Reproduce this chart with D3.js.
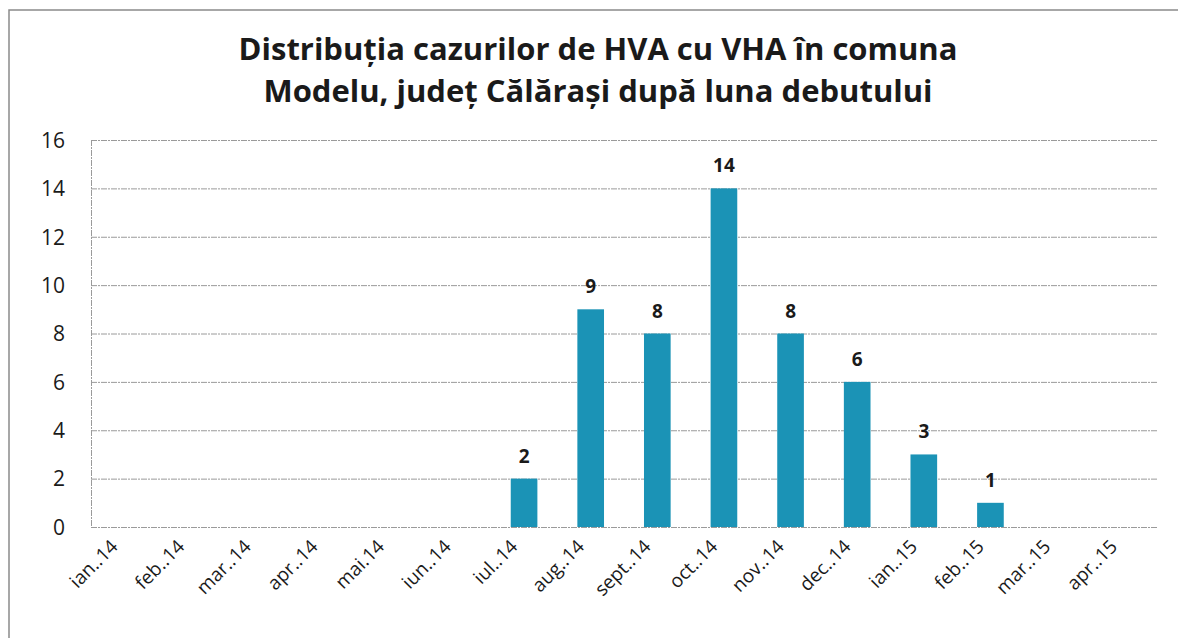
<!DOCTYPE html>
<html>
<head>
<meta charset="utf-8">
<script src="https://cdn.jsdelivr.net/npm/d3@7"></script>
<style>
  html, body { margin: 0; padding: 0; background: #fff; }
  svg { display: block; }
</style>
</head>
<body>
<div id="chart"></div>
<script>
// Bar chart: HVA cases by month of onset
const months = [
  "ian..14", "feb..14", "mar..14", "apr..14", "mai.14", "iun..14", "iul..14",
  "aug..14", "sept..14", "oct..14", "nov..14", "dec..14", "ian..15",
  "feb..15", "mar..15", "apr..15"
];
const cases = [0, 0, 0, 0, 0, 0, 2, 9, 8, 14, 8, 6, 3, 1, 0, 0];
const yTicks = [0, 2, 4, 6, 8, 10, 12, 14, 16];
const titleLines = [
  "Distribuția cazurilor de HVA cu VHA în comuna",
  "Modelu, județ Călărași  după luna debutului"
];

const width = 1184;
const height = 638;
const margin = { top: 140, right: 27, bottom: 111, left: 91 };
const font = "'Open Sans', 'DejaVu Sans', sans-serif";
const barColor = "#1b93b6";
const ink = "#1a1a1a";

const svg = d3
  .select("#chart")
  .append("svg")
  .attr("width", width)
  .attr("height", height);

// outer frame (only top + left edges show in the scan)
svg
  .append("path")
  .attr("d", `M9,${height}V10H${width - 6}`)
  .attr("fill", "none")
  .attr("stroke", "#8a8a8a")
  .attr("stroke-width", 1.5);

svg
  .append("g")
  .selectAll("text")
  .data(titleLines)
  .enter()
  .append("text")
  .attr("x", 598)
  .attr("y", (d, i) => 60 + i * 42)
  .attr("text-anchor", "middle")
  .attr("font-family", font)
  .attr("font-weight", 700)
  .attr("font-size", 31)
  .attr("fill", ink)
  .text((d) => d);

const x = d3
  .scaleBand()
  .domain(months)
  .range([margin.left, width - margin.right])
  .paddingInner(0.6)
  .paddingOuter(0.3);

const y = d3
  .scaleLinear()
  .domain([0, 16])
  .range([height - margin.bottom, margin.top]);

// gridlines
const grid = svg
  .append("g")
  .attr("stroke", "#9a9a9a")
  .attr("stroke-width", 1)
  .attr("stroke-dasharray", "6,1,2,1");

grid
  .selectAll("line")
  .data(yTicks)
  .enter()
  .append("line")
  .attr("x1", margin.left)
  .attr("x2", width - margin.right)
  .attr("y1", (d) => y(d) + 0.5)
  .attr("y2", (d) => y(d) + 0.5);

grid
  .append("line")
  .attr("x1", margin.left + 0.5)
  .attr("x2", margin.left + 0.5)
  .attr("y1", y(16))
  .attr("y2", y(0));

// y axis labels
const yAxis = svg
  .append("g")
  .attr("transform", `translate(${margin.left - 26},0)`)
  .call(d3.axisLeft(y).tickValues(yTicks).tickSize(0).tickPadding(0));
yAxis.select(".domain").remove();
yAxis
  .selectAll("text")
  .attr("font-family", font)
  .attr("font-size", 21)
  .attr("fill", ink)
  .attr("dy", "0.35em");

// x axis labels, rotated
const xAxis = svg
  .append("g")
  .attr("transform", `translate(0,${y(0)})`)
  .call(d3.axisBottom(x).tickSize(0).tickPadding(0));
xAxis.select(".domain").remove();
xAxis
  .selectAll("text")
  .attr("font-family", font)
  .attr("font-size", 19)
  .attr("fill", ink)
  .attr("text-anchor", "end")
  .attr("transform", "translate(-10,16) rotate(-45)")
  .attr("dy", "0.35em")
  .attr("y", 0);

// bars
svg
  .append("g")
  .selectAll("rect")
  .data(cases.map((v, i) => ({ m: months[i], v })))
  .enter()
  .filter((d) => d.v > 0)
  .append("rect")
  .attr("x", (d) => x(d.m))
  .attr("width", x.bandwidth())
  .attr("y", (d) => y(d.v))
  .attr("height", (d) => y(0) - y(d.v))
  .attr("fill", barColor);

// value labels
svg
  .append("g")
  .selectAll("text")
  .data(cases.map((v, i) => ({ m: months[i], v })).filter((d) => d.v > 0))
  .enter()
  .append("text")
  .attr("x", (d) => x(d.m) + x.bandwidth() / 2)
  .attr("y", (d) => y(d.v) - 16)
  .attr("text-anchor", "middle")
  .attr("font-family", font)
  .attr("font-weight", 700)
  .attr("font-size", 19)
  .attr("fill", ink)
  .text((d) => d.v);
</script>
</body>
</html>
